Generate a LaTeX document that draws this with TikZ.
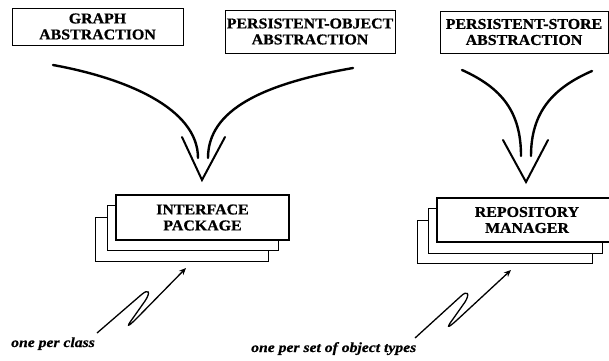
\documentclass[tikz,border=0pt]{standalone}
\usepackage{fontspec}
\setmainfont{Liberation Serif}
\newfontfamily\boxfont[FakeStretch=1.06,RawFeature={embolden=0.8}]{Liberation Serif Bold}
\newfontfamily\notefont[FakeStretch=1.12,RawFeature={embolden=0.6}]{Liberation Serif Bold Italic}
\usetikzlibrary{arrows.meta}
\begin{document}
\begin{tikzpicture}[x=1pt,y=-1pt,
  absbox/.style={draw,line width=0.8pt,inner sep=0pt,align=center,
    font=\boxfont\fontsize{15}{16}\selectfont},
  frontbox/.style={draw,line width=1.8pt,fill=white,inner sep=0pt,align=center,
    font=\boxfont\fontsize{15}{16}\selectfont},
  backbox/.style={draw,line width=1pt,fill=white,inner sep=0pt},
  funnel/.style={line width=2.4pt,line cap=round},
  vhead/.style={line width=2pt,line cap=round,line join=miter},
  squig/.style={line width=1.3pt,-{Stealth[length=7pt,width=6pt]}},
  note/.style={font=\notefont\fontsize{14}{15}\selectfont,inner sep=0pt,anchor=base west}
]
\useasboundingbox (0,0) rectangle (609,360);
% abstraction boxes
\node[absbox,minimum width=171pt,minimum height=37pt] (graph) at (97.5,26.5) {GRAPH\\ABSTRACTION};
\node[absbox,minimum width=170pt,minimum height=43pt] (pobj) at (310,31.5) {PERSISTENT-OBJECT\\ABSTRACTION};
\node[absbox,minimum width=168pt,minimum height=42pt] (pstore) at (524,32) {PERSISTENT-STORE\\ABSTRACTION};
% interface package stack
\node[backbox,minimum width=173pt,minimum height=44pt] (ipb) at (181.5,239) {};
\node[backbox,minimum width=171pt,minimum height=45pt] (ipm) at (192.5,227.5) {};
\node[frontbox,minimum width=173pt,minimum height=45pt] (ip) at (202.5,217.5) {INTERFACE\\PACKAGE};
% repository manager stack
\node[backbox,minimum width=175pt,minimum height=43pt] (rmb) at (504.5,241.5) {};
\node[backbox,minimum width=174pt,minimum height=45pt] (rmm) at (515,230.5) {};
\node[frontbox,minimum width=180pt,minimum height=44pt] (rm) at (527,220) {REPOSITORY\\MANAGER};
% funnel coordinates
\coordinate (l1s) at (53,65);  \coordinate (l1e) at (198,158);
\coordinate (l2s) at (353,68); \coordinate (l2e) at (208,158);
\coordinate (r1s) at (462,70); \coordinate (r1e) at (521,156);
\coordinate (r2s) at (592,71); \coordinate (r2e) at (531,156);
\draw[funnel] (l1s) .. controls (125,78) and (198,108) .. (l1e);
\draw[funnel] (l2s) .. controls (262,84) and (208,110) .. (l2e);
\draw[vhead] (182,137) -- (202,180) -- (225,137);
\draw[funnel] (r1s) .. controls (502,88) and (521,112) .. (r1e);
\draw[funnel] (r2s) .. controls (553,88) and (531,112) .. (r2e);
\draw[vhead] (503,140) -- (526,182) -- (548,140);
% notes
\node[note] (n1) at (11,347) {one per class};
\node[note] (n2) at (251,352) {one per set of object types};
\coordinate (s1) at (97,333);
\coordinate (t1) at (186,268);
\coordinate (s2) at (415,338);
\coordinate (t2) at (511,270);
\draw[squig] (s1) -- (141,295) .. controls (149,288) and (151,292) .. (145,301) -- (133,318) .. controls (127,326) and (126,329) .. (137,318) -- (t1);
\draw[squig] (s2) -- (460,297) .. controls (468,289) and (470,294) .. (465,302) -- (453,319) .. controls (447,327) and (446,330) .. (457,320) -- (t2);
\end{tikzpicture}
\end{document}
